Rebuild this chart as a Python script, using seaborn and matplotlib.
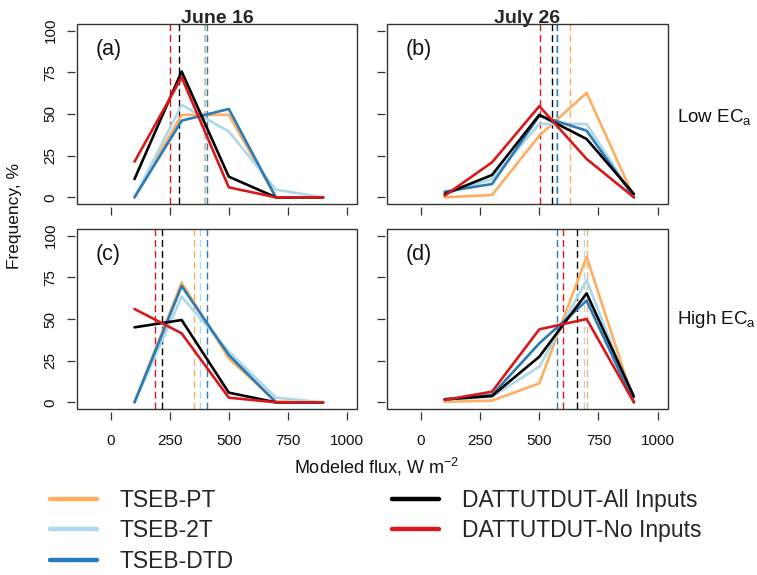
import numpy as np
import pandas as pd
import matplotlib
matplotlib.use("Agg")
import matplotlib.pyplot as plt
import seaborn as sns
from matplotlib.lines import Line2D
from matplotlib.patches import Rectangle

sns.set_style("white")
plt.rcParams["font.family"] = ["Liberation Sans", "DejaVu Sans"]
plt.rcParams["mathtext.fontset"] = "custom"
plt.rcParams["mathtext.rm"] = "Liberation Sans"
plt.rcParams["mathtext.it"] = "Liberation Sans:italic"
plt.rcParams["mathtext.bf"] = "Liberation Sans:bold"

# ---------------- data ----------------
flux = [100, 300, 500, 700, 900]
models = ["TSEB-PT", "TSEB-2T", "TSEB-DTD", "DATTUTDUT-All Inputs", "DATTUTDUT-No Inputs"]
colors = ["#FDAE61", "#ABD9E9", "#2C7BB6", "#000000", "#D7191C"]

# (a) June 16, low ECa
a_pt = [0, 49.5, 49.5, 0, 0]
a_2t = [0, 55.5, 39.5, 4.6, 0]
a_dtd = [0, 46, 53, 0, 0]
a_all = [11, 75.5, 12.4, 0, 0]
a_no = [21.4, 72, 6, 0, 0]
a_means = [398, 395, 406, 287, 252]

# (b) July 26, low ECa
b_pt = [0, 1.4, 37, 62.7, 0]
b_2t = [2, 11, 44, 44, 0]
b_dtd = [3.4, 8, 49, 40, 0]
b_all = [2, 13.4, 49.5, 35, 2]
b_no = [1, 21, 54.7, 23, 0]
b_means = [630, 572, 576, 552, 503]

# (c) June 16, high ECa
c_pt = [0, 71.8, 26.4, 0.5, 0]
c_2t = [0, 63.4, 30.4, 2.8, 0]
c_dtd = [0, 69.8, 28.4, 0, 0]
c_all = [45, 49.4, 5.8, 0, 0]
c_no = [56, 41.4, 2.8, 0, 0]
c_means = [351, 379, 407, 215, 188]

# (d) July 26, high ECa
d_pt = [0.4, 1, 11.4, 87.4, 0]
d_2t = [1.4, 3.4, 21.4, 73.4, 0]
d_dtd = [1.8, 4.4, 35.4, 61, 0]
d_all = [1.8, 3.8, 27.4, 65.4, 3.4]
d_no = [1.4, 6.4, 43.8, 50, 0]
d_means = [700, 689, 576, 658, 601]

panels = {
    "a": ([a_pt, a_2t, a_dtd, a_all, a_no], a_means),
    "b": ([b_pt, b_2t, b_dtd, b_all, b_no], b_means),
    "c": ([c_pt, c_2t, c_dtd, c_all, c_no], c_means),
    "d": ([d_pt, d_2t, d_dtd, d_all, d_no], d_means),
}
xticks = [0, 250, 500, 750, 1000]
yticks = [0, 25, 50, 75, 100]

rows = []
for p, (series, _) in panels.items():
    for m, vals in zip(models, series):
        for xv, yv in zip(flux, vals):
            rows.append({"panel": p, "model": m, "flux": xv, "freq": yv})
df = pd.DataFrame(rows)
palette = dict(zip(models, colors))

# ---------------- figure ----------------
W, H = 757, 575
fig = plt.figure(figsize=(W / 100, H / 100), dpi=100)

def px_axes(l, t, r, b):
    return fig.add_axes([l / W, 1 - b / H, (r - l) / W, (b - t) / H])

boxes = {"a": (77, 24, 357, 204), "b": (387, 24, 668, 204),
         "c": (77, 229, 357, 409), "d": (387, 229, 668, 409)}
edge = "#333333"

for p, (l, t, r, b) in boxes.items():
    ax = px_axes(l, t, r, b)
    sub = df[df["panel"] == p]
    means = panels[p][1]
    for m, c, mv in zip(models, colors, means):
        ax.axvline(mv, color=c, lw=1.0, ls=(0, (5, 2.8)), zorder=1)
    sns.lineplot(data=sub, x="flux", y="freq", hue="model", hue_order=models,
                 palette=palette, sort=False, estimator=None, legend=False,
                 lw=1.9, ax=ax, zorder=3)
    ax.set_xlim(-144, 1044)
    ax.set_ylim(-4, 104)
    ax.set_xlabel("")
    ax.set_ylabel("")
    ax.grid(False)
    for s in ax.spines.values():
        s.set_visible(False)
    ax.spines["bottom"].set_position(("outward", 2.5))
    ax.spines["left"].set_position(("outward", 1.5))
    ax.add_patch(Rectangle((0, 0), 1, 1, transform=ax.transAxes, fill=False,
                           ec=edge, lw=1.0, clip_on=False, zorder=10))
    ax.set_xticks(xticks)
    ax.set_yticks(yticks)
    ax.tick_params(bottom=True, left=True, top=False, right=False,
                   direction="out", length=5.5, width=0.9, color=edge,
                   labelsize=11, labelcolor="#111111")
    ax.tick_params(axis="x", pad=10)
    ax.tick_params(axis="y", pad=7)
    for lab in ax.get_yticklabels():
        lab.set_rotation(90)
        lab.set_va("center")
    if p in ("a", "b"):
        ax.tick_params(labelbottom=False)
    if p in ("b", "d"):
        ax.tick_params(labelleft=False)
    ax.text(0.068, 0.86, "(%s)" % p, transform=ax.transAxes, fontsize=15.5,
            ha="left", va="center", color="#111111")
    if p == "a":
        ax.text(0.5, 1.006, "June 16", transform=ax.transAxes, ha="center",
                va="baseline", fontsize=14, fontweight="bold")
    if p == "b":
        ax.text(0.5, 1.006, "July 26", transform=ax.transAxes, ha="center",
                va="baseline", fontsize=14, fontweight="bold")

fig.text(677 / W, 1 - 117 / H, r"Low EC$_\mathrm{a}$", ha="left", va="center",
         fontsize=13.5, color="#111111")
fig.text(677 / W, 1 - 320 / H, r"High EC$_\mathrm{a}$", ha="left", va="center",
         fontsize=13.5, color="#111111")
fig.text(15 / W, 1 - 216 / H, "Frequency, %", rotation=90, ha="center",
         va="center", fontsize=12.5, color="#111111")
fig.text(376 / W, 1 - 467 / H, r"Modeled flux, W m$^{-2}$", ha="center",
         va="center", fontsize=13, color="#111111")

h1 = [Line2D([], [], color=c, lw=3.2) for c in colors[:3]]
h2 = [Line2D([], [], color=c, lw=3.2) for c in colors[3:]]
common = dict(loc="upper left", frameon=False, fontsize=16.5, handlelength=2.05,
              handletextpad=1.0, labelspacing=0.32, borderpad=0, borderaxespad=0)
leg1 = fig.legend(h1, models[:3], bbox_to_anchor=(50 / W, 1 - 489 / H), **common)
leg2 = fig.legend(h2, models[3:], bbox_to_anchor=(392 / W, 1 - 489 / H), **common)

fig.savefig("out.png", dpi=100)
